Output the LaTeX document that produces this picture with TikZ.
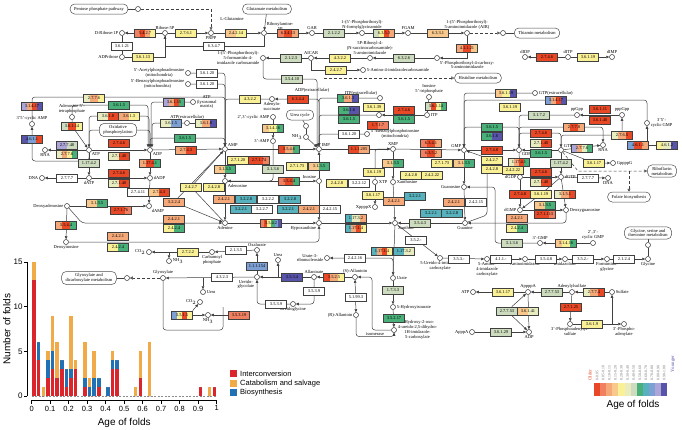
\documentclass[tikz,border=0pt]{standalone}
\usepackage{fontspec}
\setmainfont{Liberation Serif}
\setsansfont{Liberation Sans}
\usetikzlibrary{arrows.meta, calc, backgrounds}

% fold-age palette, older to younger
\definecolor{ag1}{RGB}{233,72,38}
\definecolor{ag2}{RGB}{240,128,96}
\definecolor{ag3}{RGB}{245,168,120}
\definecolor{ag4}{RGB}{248,200,140}
\definecolor{ag5}{RGB}{250,240,150}
\definecolor{ag6}{RGB}{232,236,190}
\definecolor{ag7}{RGB}{205,220,190}
\definecolor{ag8}{RGB}{72,176,120}
\definecolor{ag9}{RGB}{88,178,190}
\definecolor{ag10}{RGB}{125,160,212}
\definecolor{ag11}{RGB}{172,165,215}
\definecolor{ag12}{RGB}{88,84,170}
\definecolor{icol}{RGB}{218,37,45}
\definecolor{ccol}{RGB}{241,170,72}
\definecolor{bcol}{RGB}{33,113,181}

\newcommand{\boxfont}{\fontsize{4.4}{4.6}\selectfont}
\newcommand{\cpdfont}{\fontsize{4.5}{4.9}\selectfont}

% enzyme box: name, position, EC number, colour segments
\newcommand{\ecnode}[4]{%
  \node[ecbox] (#1) at (#2) {\phantom{#3}};
  \gdef\nseg{0}%
  \foreach \c in {#4} {\pgfmathtruncatemacro\tmpn{\nseg+1}\global\let\nseg\tmpn}%
  \foreach \c [count=\i] in {#4} {
    \pgfmathsetmacro\fa{(\i-1)/\nseg}\pgfmathsetmacro\fb{\i/\nseg}
    \fill[\c] ($(#1.south west)!\fa!(#1.south east)$) rectangle ($(#1.north west)!\fb!(#1.north east)$);
  }
  \node[ecbox, draw=black!75, line width=0.45pt] at (#2) {#3};
}
% compound: name, position, label side, label
\newcommand{\compound}[4]{\node[cpd, label={[lbl]#3:{#4}}] (#1) at (#2) {};}

\begin{document}
\begin{tikzpicture}[
        x=1pt, y=-1pt,
        ecbox/.style={rectangle, minimum width=21pt, minimum height=8.4pt, inner sep=0.3pt, font=\boxfont},
        cpd/.style={circle, draw=black!80, fill=white, line width=0.5pt, minimum size=5pt, inner sep=0pt},
        lbl/.style={font=\cpdfont, inner sep=0.8pt, align=center},
        pwbox/.style={draw=black!70, fill=white, rounded corners=4.5pt, line width=0.5pt,
            font=\cpdfont, align=center, inner xsep=4pt, inner ysep=2pt, minimum height=10pt},
        ln/.style={draw=black!75, line width=0.5pt},
        arr/.style={ln, -{Triangle[length=3pt, width=2.6pt]}},
        dsh/.style={ln, dash pattern=on 3pt off 2pt, -{Triangle[open, length=3pt, width=3pt]}},
        rc/.style={rounded corners=3pt}
        ]
    \useasboundingbox (0,0) rectangle (682,429);
    \begin{scope}[on background layer]
        \fill[white] (0,0) rectangle (682,429);
    \end{scope}

    % --- linked pathways ---
    \node[pwbox] (pppbox) at (99,9) {Pentose phosphate pathway};
    \node[pwbox] (glubox) at (267,9) {Glutamate metabolism};
    \node[pwbox] (thiambox) at (537,33) {Thiamin metabolism};
    \node[pwbox] (hisbox) at (478,78) {Histidine metabolism};
    \node[pwbox] (oxbox) at (118,130) {Oxidative\\phosphorylation};
    \node[pwbox] (ureabox) at (300,115) {Urea cycle};
    \node[pwbox] (ribbox) at (662,171) {Riboflavin\\metabolism};
    \node[pwbox] (folbox) at (629,197) {Folate biosynthesis};
    \node[pwbox] (glybox) at (648,233) {Glycine, serine and\\threonine metabolism};
    \node[pwbox] (glyxbox) at (89,278) {Glyoxylate and\\dicarboxylate metabolism};

    % --- compounds ---
    \node[cpd] (pppc) at (138,9) {};
    \compound{rib1p}{122,33}{left}{D-Ribose-1P}
    \compound{rib5p}{165,33}{above}{Ribose-5P}
    \compound{prpp}{211,33}{below}{PRPP}
    \compound{adprib}{122,57}{left}{ADPribose}
    \node[lbl] (lglu) at (232,19) {L-Glutamine};
    \compound{ribam}{264,33}{above right}{Ribosylamine-\\5P}
    \compound{gar}{312,33}{above}{GAR}
    \compound{fgar}{362,33}{above}{1-(5'-Phosphoribosyl)-\\N-formylglycinamide}
    \compound{fgam}{408,33}{above}{FGAM}
    \compound{air}{467,33}{above}{1-(5'-Phosphoribosyl)-\\5-aminoimidazole (AIR)}
    \node[cpd] (thiamc) at (503,33) {};
    \compound{cair}{437,58}{below right}{5'-Phosphoribosyl-4-carboxy-\\5-aminoimidazole}
    \compound{saicar}{370,58}{above}{5P-Ribosyl-4-\\(N-succinocarboxamide)-\\5-aminoimidazole}
    \compound{aicar}{311,58}{above}{AICAR}
    \compound{faicar}{263,58}{left}{1-(5'-Phosphoribosyl)-\\5-formamido-4-\\imidazole carboxamide}
    \compound{aic}{363,70}{right}{5-Amino-4-imidazolecarboxamide}
    \compound{didp}{525,57}{above}{dIDP}
    \compound{ditp}{568,57}{above}{dITP}
    \compound{dimp}{612,57}{above}{dIMP}
    \compound{acet}{188,73}{left}{5'-Acetylphosphoadenosine\\(mitochondria)}
    \compound{benz}{188,84}{left}{5'-Benzoylphosphoadenosine\\(mitochondria)}
    \node[lbl] (adpex) at (312,90) {ADP(extracellular)};
    \compound{adsucc}{272,99}{below}{Adenylo-\\succinate}
    \compound{itpex}{380,98}{above left}{ITP(extracellular)}
    \compound{ino5tp}{429,97}{above}{Inosine\\5'-triphosphate}
    \compound{atply}{193,102}{right}{ATP\\(lysosomal\\matrix)}
    \compound{atpex}{187,123}{above}{ATP(extracellular)}
    \compound{ado5tp}{72,117}{above}{Adenosine 5'-\\tetraphosphate}
    \compound{camp}{32,124}{above}{3'5'-cyclic AMP}
    \compound{rna1}{45,150}{below}{RNA}
    \compound{atp}{89,150}{below right}{ATP}
    \compound{adp}{150,150}{below right}{ADP}
    \compound{amp}{225,149}{above right}{AMP}
    \compound{dna1}{42,178}{left}{DNA}
    \compound{datp}{89,178}{below}{dATP}
    \compound{dadp}{150,178}{right}{dADP}
    \compound{dado}{67,206}{left}{Deoxyadenosine}
    \compound{damp}{149,206}{below right}{dAMP}
    \compound{dino}{66,242}{below}{Deoxyinosine}
    \compound{adenosine}{225,181}{below right}{Adenosine}
    \compound{adenine}{225,223}{below}{Adenine}
    \compound{camp23}{273,117}{left}{2',3'-cyclic AMP}
    \compound{amp3}{273,141}{left}{3'-AMP}
    \node[cpd] (urc) at (306,126) {};
    \compound{nh3a}{306,137}{left}{NH$_3$}
    \compound{imp}{319,149}{above right}{IMP}
    \compound{xmp}{393,149}{above}{XMP}
    \compound{inosine}{319,181}{above left}{Inosine}
    \compound{hypox}{319,223}{below left}{Hypoxanthine}
    \compound{xtp}{375,182}{right}{XTP}
    \compound{xanthosine}{393,182}{right}{Xanthosine}
    \compound{xanthine}{395,223}{below right}{Xanthine}
    \compound{bzi}{367,134}{right}{5'-Benzoylphosphoinosine\\(mitochondria)}
    \compound{idp}{379,115}{above left}{IDP}
    \compound{itp}{427,115}{right}{ITP}
    \compound{xppppx}{375,207}{left}{XppppX}
    \compound{gmp}{464,150}{above left}{GMP}
    \compound{gdp}{519,150}{below right}{GDP}
    \compound{gtp}{561,150}{above right}{GTP}
    \compound{rna2}{603,145}{below}{RNA}
    \compound{gtpex}{535,93}{right}{GTP(extracellular)}
    \compound{ppgpp}{577,115}{above}{ppGpp}
    \compound{pppgpp}{622,115}{above}{pppGpp}
    \compound{cgmp}{647,123}{right}{3'5'-\\cyclic GMP}
    \compound{gppppg}{613,163}{right}{GppppG}
    \compound{dgdp}{520,177}{left}{dGDP}
    \compound{dgtp}{561,177}{right}{dGTP}
    \compound{dna2}{608,178}{below}{DNA}
    \compound{guanosine}{464,187}{left}{Guanosine}
    \compound{dgmp}{520,210}{left}{dGMP}
    \compound{dguo}{566,210}{right}{Deoxyguanosine}
    \compound{guanine}{465,223}{below}{Guanine}
    \compound{gmp3}{540,243}{above}{3'-GMP}
    \compound{cgmp23}{593,243}{above}{2',3'-\\cyclic GMP}
    \compound{urimc}{440,258}{below}{5-Ureido-4-imidazole\\carboxylate}
    \compound{aminoimc}{487,259}{below}{5-Amino-\\4-imidazole\\carboxylate}
    \compound{aminoim}{525,259}{below}{Aminoimidazole}
    \compound{imidazolone}{565,259}{below}{Imidazolone}
    \compound{formimino}{607,259}{below}{Formimino-\\glycine}
    \compound{glycine}{648,259}{below}{Glycine}
    \node[cpd] (glyj) at (648,245) {};
    \compound{atp2}{473,292}{left}{ATP}
    \compound{appppa}{528,292}{above}{AppppA}
    \compound{aps}{572,292}{above}{Adenylylsulfate}
    \compound{sulfate}{612,292}{right}{Sulfate}
    \compound{paps}{570,324}{below}{3'-Phosphoadenylyl-\\sulfate}
    \compound{pap}{624,324}{below}{3'-Phospho-\\adenylate}
    \compound{apppa}{472,332}{left}{ApppA}
    \compound{adp2}{529,332}{below}{ADP}
    \compound{urate}{393,278}{right}{Urate}
    \compound{urate3r}{327,258}{left}{Urate-3-\\ribonucleoside}
    \compound{hiu}{393,307}{right}{5-Hydroxyisourate}
    \compound{ohcu}{394,330}{right}{5-Hydroxy-2-oxo-\\4-ureido-2,5-dihydro-\\1H-imidazole-\\5-carboxylate}
    \compound{sallantoin}{355,277}{above}{(S)-Allantoin}
    \compound{rallantoin}{356,315}{left}{(R)-Allantoin}
    \node[lbl] (iso) at (375,334) {isomerase};
    \compound{allantoate}{314,277}{above}{Allantoate}
    \compound{ureidoglycine}{293,304}{below}{Ureidoglycine}
    \compound{ureidoglycolate}{257,277}{below left}{Ureido-\\glycolate}
    \compound{urea}{278,260}{above}{Urea}
    \compound{oxalurate}{257,250}{above}{Oxalurate}
    \compound{carbp}{212,252}{below}{Carbamoyl\\phosphate}
    \compound{co2a}{149,252}{left}{CO$_2$}
    \compound{nh3b}{169,261}{right}{NH$_3$}
    \compound{glyoxylate}{163,278}{above}{Glyoxylate}
    \node[cpd] (glyoxc) at (127,278) {};
    \compound{urea2}{203,292}{right}{Urea}
    \compound{co2b}{200,302}{left}{CO$_2$}
    \compound{nh3c}{208,315}{below}{NH$_3$}

    % --- enzymes: de novo synthesis ---
    \ecnode{b5427}{145,33}{5.4.2.7}{ag2,ag1,ag3,ag5}
    \ecnode{b2761}{186,33}{2.7.6.1}{ag5}
    \ecnode{b36121}{122,46}{3.6.1.21}{white}
    \ecnode{b36113}{143,57}{3.6.1.13}{ag5}
    \ecnode{b6347}{214,46}{6.3.4.7}{white}
    \ecnode{b24214}{236,33}{2.4.2.14}{ag4,ag5}
    \ecnode{b63413}{288,33}{6.3.4.13}{ag2,ag1,ag3}
    \ecnode{b2122}{334,33}{2.1.2.2}{ag7}
    \ecnode{b6353}{384,33}{6.3.5.3}{ag7,ag5,ag1,ag3}
    \ecnode{b6331}{438,33}{6.3.3.1}{ag4}
    \ecnode{b41121}{467,48}{4.1.1.21}{ag3,ag1,ag4}
    \ecnode{b2123}{291,58}{2.1.2.3}{ag7}
    \ecnode{b4322a}{340,58}{4.3.2.2}{ag5}
    \ecnode{b6326}{404,58}{6.3.2.6}{ag7}
    \ecnode{b2427a}{336,70}{2.4.2.7}{ag5}
    \ecnode{b35410}{292,79}{3.5.4.10}{ag7}
    \ecnode{b2746a}{547,57}{2.7.4.6}{ag1}
    \ecnode{b36119a}{588,57}{3.6.1.19}{ag5}

    % --- enzymes: adenine side ---
    \ecnode{b36120a}{207,73}{3.6.1.20}{white}
    \ecnode{b36120b}{207,84}{3.6.1.20}{white}
    \ecnode{b4322b}{250,99}{4.3.2.2}{ag5}
    \ecnode{b6344}{298,99}{6.3.4.4}{ag1}
    \ecnode{b31417a}{32,106}{3.1.4.17}{ag11,ag3,ag1,ag12}
    \ecnode{b4611a}{32,139}{4.6.1.1}{ag12,ag10,ag1}
    \ecnode{b2776a}{94,98}{2.7.7.6}{ag6,ag3,ag5}
    \ecnode{b3615a}{119,105}{3.6.1.5}{ag8}
    \ecnode{b36114a}{72,126}{3.6.1.14}{ag7,ag1,ag5}
    \ecnode{b3641}{108,116}{3.6.1.8}{ag6,ag1}
    \ecnode{b3613b}{129,116}{3.6.1.3}{ag3,ag5}
    \ecnode{b36115}{174,102}{3.6.1.15}{ag11,ag3,ag1,ag8}
    \ecnode{b3618a}{171,123}{3.6.1.5}{ag6,ag10}
    \ecnode{b3618b}{206,123}{3.6.1.8}{ag6,ag3,ag12}
    \ecnode{b27748}{67,145}{2.7.7.48}{ag11,ag7}
    \ecnode{b2776b}{67,154}{2.7.7.6}{ag6,ag3,ag5,ag8}
    \ecnode{b2746b}{119,143}{2.7.4.6}{ag1}
    \ecnode{b27140a}{119,156}{2.7.1.40}{ag6,ag1}
    \ecnode{b3615c}{185,138}{3.6.1.5}{ag8}
    \ecnode{b2743a}{186,150}{2.7.4.3}{ag3,ag1}
    \ecnode{b11742a}{89,163}{1.17.4.2}{ag7}
    \ecnode{b11741a}{150,163}{1.17.4.1}{ag3,ag1,ag8}
    \ecnode{b2777a}{67,178}{2.7.7.7}{white}
    \ecnode{b2746c}{119,173}{2.7.4.6}{ag1}
    \ecnode{b27140b}{119,183}{2.7.1.40}{ag6,ag1}
    \ecnode{b27411}{138,192}{2.7.4.11}{white}
    \ecnode{b2743b}{159,192}{2.7.4.3}{ag4,ag1}
    \ecnode{b3224}{174,202}{3.2.2.4}{ag3}
    \ecnode{b2427b}{191,187}{2.4.2.7}{ag5}
    \ecnode{b2428a}{214,187}{2.4.2.8}{ag5}
    \ecnode{b3135a}{97,203}{3.1.3.5}{ag4,ag8}
    \ecnode{b27176}{121,210}{2.7.1.76}{ag1,ag1,ag2}
    \ecnode{b3544a}{66,225}{3.5.4.4}{ag3,ag1,ag8}
    \ecnode{b2421a}{174,219}{2.4.2.1}{ag3}
    \ecnode{b2424a}{174,228}{2.4.2.4}{ag5,ag8}
    \ecnode{b2421b}{118,236}{2.4.2.1}{ag3}
    \ecnode{b2424b}{118,247}{2.4.2.4}{ag5,ag8}
    \ecnode{b31416a}{273,128}{3.1.4.16}{ag4,ag5,ag8}
    \ecnode{b3546}{289,149}{3.5.4.6}{ag1,ag3,ag8}
    \ecnode{b27120}{238,160}{2.7.1.20}{ag5}
    \ecnode{b27174}{259,160}{2.7.1.74}{ag1,ag1,ag2}
    \ecnode{b3135b}{225,169}{3.1.3.5}{ag4,ag8}
    \ecnode{b3136a}{273,169}{3.1.3.6}{ag7}
    \ecnode{b27173a}{297,166}{2.7.1.73}{ag5}
    \ecnode{b3135c}{319,166}{3.1.3.5}{ag4,ag8}
    \ecnode{b3544b}{289,181}{3.5.4.4}{ag2,ag1,ag8}
    \ecnode{b2421e}{224,199}{2.4.2.1}{ag3}
    \ecnode{b3228a}{246,199}{3.2.2.8}{ag9}
    \ecnode{b3222}{268,199}{3.2.2.2}{white}
    \ecnode{b3228b}{290,199}{3.2.2.8}{ag9}
    \ecnode{b3221d}{241,209}{3.2.2.1}{ag9}
    \ecnode{b3227}{262,209}{3.2.2.7}{white}
    \ecnode{b3221c}{288,209}{3.2.2.1}{ag9}
    \ecnode{b2421d}{309,209}{2.4.2.1}{ag3}
    \ecnode{b24215a}{330,209}{2.4.2.15}{white}
    \ecnode{b3542}{271,223}{3.5.4.2}{ag2,ag1,ag5,ag8,ag10,ag12}

    % --- enzymes: inosine and xanthine ---
    \ecnode{b3613a}{348,98}{3.6.1.3}{ag8,ag3,ag12}
    \ecnode{b36139}{374,107}{3.6.1.39}{ag5}
    \ecnode{b36114b}{436,106}{3.6.1.14}{ag7,ag1,ag5,ag8}
    \ecnode{b111205}{359,149}{1.1.1.205}{ag1,ag3}
    \ecnode{b6341}{431,143}{6.3.4.1}{ag2,ag1,ag3}
    \ecnode{b6352}{431,153}{6.3.5.2}{ag2,ag1,ag3}
    \ecnode{b36120c}{349,134}{3.6.1.20}{white}
    \ecnode{b2746d}{404,110}{2.7.4.6}{ag1}
    \ecnode{b3615d}{404,119}{3.6.1.5}{ag8}
    \ecnode{b3616a}{349,110}{3.6.1.6}{ag8,ag12}
    \ecnode{b3615e}{349,119}{3.6.1.5}{ag8}
    \ecnode{b1717}{378,125}{1.7.1.7}{ag1,ag2}
    \ecnode{b2428b}{337,183}{2.4.2.8}{ag5}
    \ecnode{b32212}{359,183}{3.2.2.12}{white}
    \ecnode{b3135d}{393,163}{3.1.3.5}{ag4,ag8}
    \ecnode{b36119d}{374,172}{3.6.1.19}{ag5}
    \ecnode{b2428c}{411,175}{2.4.2.8}{ag5}
    \ecnode{b24222a}{432,175}{2.4.2.22}{ag5}
    \ecnode{b36117a}{373,195}{3.6.1.17}{ag5}
    \ecnode{b2421c}{394,201}{2.4.2.1}{ag3}
    \ecnode{b3221a}{415,196}{3.2.2.1}{ag9}
    \ecnode{b3221b}{431,213}{3.2.2.1}{ag9}
    \ecnode{b11732a}{356,218}{1.17.3.2}{ag9,ag6,ag3}
    \ecnode{b11714a}{356,228}{1.17.1.4}{ag9,ag3,ag1,ag5}
    \ecnode{b3543}{420,223}{3.5.4.3}{ag7}

    % --- enzymes: guanine side ---
    \ecnode{b36119b}{506,93}{3.6.1.19}{ag4,ag5,ag12}
    \ecnode{b31417c}{556,100}{3.1.4.17}{ag10,ag3,ag1,ag12}
    \ecnode{b36119c}{510,107}{3.6.1.19}{ag5}
    \ecnode{b3172}{539,115}{3.1.7.2}{ag7}
    \ecnode{b36111}{600,109}{3.6.1.11}{ag1}
    \ecnode{b36140}{600,120}{3.6.1.40}{ag1}
    \ecnode{b2778}{574,127}{2.7.7.8}{ag3,ag1,ag3}
    \ecnode{b2765}{622,135}{2.7.6.5}{ag6,ag3,ag1}
    \ecnode{b4611b}{638,145}{4.6.1.1}{ag10,ag1,ag3}
    \ecnode{b4612}{667,145}{4.6.1.2}{ag5,ag6,ag12}
    \ecnode{b3615f}{492,127}{3.6.1.5}{ag8}
    \ecnode{b3616b}{492,136}{3.6.1.6}{ag8,ag12}
    \ecnode{b2748a}{492,150}{2.7.4.8}{ag1}
    \ecnode{b2746e}{541,133}{2.7.4.6}{ag1}
    \ecnode{b27140c}{541,143}{2.7.1.40}{ag6,ag1}
    \ecnode{b3615g}{541,153}{3.6.1.5}{ag8}
    \ecnode{b2776c}{582,148}{2.7.7.6}{ag11,ag3,ag6,ag8}
    \ecnode{b11741b}{519,162}{1.17.4.1}{ag6,ag3,ag1,ag8}
    \ecnode{b11742b}{561,163}{1.17.4.2}{ag7}
    \ecnode{b36117b}{594,163}{3.6.1.17}{ag5}
    \ecnode{b27173b}{442,163}{2.7.1.73}{ag5}
    \ecnode{b3135e}{464,163}{3.1.3.5}{ag4,ag8}
    \ecnode{b2427c}{492,160}{2.4.2.7}{ag5}
    \ecnode{b2428d}{492,169}{2.4.2.8}{ag5}
    \ecnode{b24222b}{513,170}{2.4.2.22}{ag5}
    \ecnode{b2746f}{541,172}{2.7.4.6}{ag1}
    \ecnode{b27140d}{541,182}{2.7.1.40}{ag6,ag1}
    \ecnode{b2777b}{588,178}{2.7.7.7}{white}
    \ecnode{b2748b}{520,194}{2.7.4.8}{ag1}
    \ecnode{b36119e}{541,194}{3.6.1.19}{ag5}
    \ecnode{b3151}{565,194}{3.1.5.1}{ag6,ag3,ag1}
    \ecnode{b2421f}{454,202}{2.4.2.1}{ag3}
    \ecnode{b24215b}{476,202}{2.4.2.15}{white}
    \ecnode{b3135f}{545,205}{3.1.3.5}{ag4,ag8}
    \ecnode{b271113}{545,214}{2.7.1.113}{ag1,ag1,ag2}
    \ecnode{b3228c}{452,213}{3.2.2.8}{ag9}
    \ecnode{b2421g}{517,218}{2.4.2.1}{ag3}
    \ecnode{b2424c}{517,228}{2.4.2.4}{ag5,ag8}
    \ecnode{b3136b}{512,243}{3.1.3.6}{ag7}
    \ecnode{b31416b}{566,243}{3.1.4.16}{ag4,ag5,ag8}

    % --- enzymes: degradation ---
    \ecnode{b11714b}{382,251}{1.17.1.4}{ag9,ag3,ag1,ag5}
    \ecnode{b11732b}{404,251}{1.17.3.2}{ag9,ag6}
    \ecnode{b352a}{416,240}{3.5.2.-}{white}
    \ecnode{b24216}{355,258}{2.4.2.16}{white}
    \ecnode{b1733}{393,290}{1.7.3.3}{ag7}
    \ecnode{b35217}{394,318}{3.5.2.17}{ag8}
    \ecnode{b3534}{292,277}{3.5.3.4}{ag12}
    \ecnode{b3525}{334,277}{3.5.2.5}{ag1,ag3,ag5}
    \ecnode{b3539a}{314,291}{3.5.3.9}{white}
    \ecnode{b3539b}{276,304}{3.5.3.9}{white}
    \ecnode{b51993}{356,297}{5.1.99.3}{white}
    \ecnode{b2722}{188,252}{2.7.2.2}{ag5}
    \ecnode{b2135}{236,250}{2.1.3.5}{white}
    \ecnode{b4323}{222,277}{4.3.2.3}{white}
    \ecnode{b11154}{257,266}{1.1.1.154}{ag10}
    \ecnode{b3515}{182,315}{3.5.1.5}{ag10,ag5,ag1,ag5}
    \ecnode{b35319}{239,315}{3.5.3.19}{ag2}
    \ecnode{b353}{459,259}{3.5.3.-}{white}
    \ecnode{b411}{501,259}{4.1.1.-}{white}
    \ecnode{b3548}{546,259}{3.5.4.8}{white}
    \ecnode{b352c}{583,259}{3.5.2.-}{white}
    \ecnode{b2124}{624,259}{2.1.2.4}{white}
    \ecnode{b36117c}{503,292}{3.6.1.17}{ag5}
    \ecnode{b27753a}{552,292}{2.7.7.53}{ag7}
    \ecnode{b2774}{594,292}{2.7.7.4}{ag6,ag3,ag1}
    \ecnode{b27125}{571,307}{2.7.1.25}{ag1}
    \ecnode{b27753b}{507,311}{2.7.7.53}{ag7}
    \ecnode{b36141}{528,311}{3.6.1.41}{ag4,ag6}
    \ecnode{b3619}{592,324}{3.6.1.9}{ag5}
    \ecnode{b36129}{501,332}{3.6.1.29}{ag7}

    % --- reactions ---
    \begin{scope}[on background layer]
        \draw[arr] (rib5p) -- (rib1p);
        \draw[arr] (rib5p) -- (prpp);
        \draw[ln] (pppbox) -- (pppc);
        \draw[dsh] (pppc) -| (prpp);
        \draw[ln] (adprib) -- (rib1p);
        \draw[arr] (adprib) -| (rib5p);
        \draw[ln] (rib5p) |- (b6347) -| (ribam);
        \draw[arr] (prpp) -- (ribam);
        \draw[arr] (glubox) -- (ribam);
        \draw[arr] (ribam) -- (gar);
        \draw[arr] (gar) -- (fgar);
        \draw[arr] (fgar) -- (fgam);
        \draw[arr] (fgam) -- (air);
        \draw[dsh] (air) -- (thiamc);
        \draw[ln] (thiamc) -- (thiambox);
        \draw[arr] (air) |- (cair);
        \draw[arr] (cair) -- (saicar);
        \draw[arr] (saicar) -- (aicar);
        \draw[arr] (aicar) -- (faicar);
        \draw[arr] (aicar) |- (aic);
        \draw[arr, rc] (faicar) |- (b35410) -| (imp.north west);
        \coordinate (hisj) at (324,78);
        \draw[dsh] (hisj) -- (hisbox);
        \draw[arr] (ditp) -- (didp);
        \draw[arr] (ditp) -- (dimp);

        \draw[arr, rc] (acet) -| (amp);
        \draw[arr, rc] (benz) -| (amp);
        \draw[arr, rc] (adsucc) -| (amp);
        \draw[arr, rc] (imp) |- (adsucc);
        \draw[arr] (amp) -- (imp);
        \draw[arr] (imp) -- (xmp);
        \draw[arr] (xmp) -- (gmp);
        \draw[arr] (camp23) -- (amp3);
        \draw[arr, rc] (amp3) |- (adenosine);
        \draw[ln] (ureabox) -- (urc);
        \draw[ln] (urc) -- (nh3a);
        \draw[arr] (nh3a) -- (imp);
        \draw[arr] (amp) -- (adenosine);
        \draw[arr] (adenosine) -- (inosine);
        \draw[arr] (inosine) -- (imp);
        \draw[arr] (inosine) -- (hypox);
        \draw[arr] (adenosine) -- (adenine);
        \draw[arr] (adenine) -- (hypox);
        \draw[arr] (hypox) -- (xanthine);
        \draw[arr] (xmp) -- (xanthosine);
        \draw[arr] (xanthosine) -- (xanthine);
        \draw[arr, rc] (xtp) |- (xmp);
        \draw[arr] (xtp) -- (xppppx);
        \draw[arr] (gmp) -- (guanosine);
        \draw[arr] (guanosine) -- (guanine);
        \draw[arr] (guanine) -- (xanthine);
        \draw[arr, rc] (guanine) -- (487,215) -- (487,158) -- (gmp);

        \draw[arr, rc] (camp) -- (32,97) -| (amp);
        \draw[arr, rc] (atp) |- (32,161) -- (camp);
        \draw[arr] (ado5tp) -- (b36114a.center) -- (atp);
        \draw[arr] (atp) -- (rna1);
        \draw[arr] (atp) -- (adp);
        \draw[arr, rc] (oxbox.east) -| (adp);
        \draw[arr, rc] (oxbox.west) -| (atp);
        \draw[arr, rc] (ado5tp) |- (b3615a) -| ([xshift=-2pt]adp.north);
        \draw[arr, rc] (atp) |- (b3641) -| ([xshift=-1pt]adp.north);
        \draw[arr, rc] (atply) -| ([xshift=1pt]adp.north);
        \draw[ln] (b3618b) -- (atpex);
        \draw[arr, rc] (atpex) -| ([xshift=2pt]adp.north);
        \draw[arr] (adp) -- (amp);
        \draw[arr, rc] (adp) |- (b3615c) -| (amp);
        \draw[arr] (atp) -- (datp);
        \draw[arr] (adp) -- (dadp);
        \draw[arr] (datp) -- (dadp);
        \draw[arr] (datp) -- (dna1);
        \draw[arr] (dadp) -- (damp);
        \draw[arr] (dado) -- (damp);
        \draw[arr] (dado) -- (dino);
        \draw[arr, rc] (dado) -- (82,223) -- (adenine);
        \draw[arr, rc] (dino) -| (hypox);
        \draw[arr] (amp) -- (b3224.center) -- (adenine);
        \draw[arr] (adenine) -- (b2427b.center) -- (amp);

        \draw[arr] (carbp) -- (co2a);
        \draw[arr] (nh3b |- co2a) -- (nh3b);
        \draw[arr] (oxalurate) -- (carbp);
        \draw[arr] (ureidoglycolate) -- (oxalurate);
        \draw[arr] (allantoate) -- (ureidoglycolate);
        \draw[arr] (urea |- allantoate) -- (urea);
        \draw[arr] (sallantoin) -- (allantoate);
        \draw[arr, rc] (allantoate) |- (ureidoglycine);
        \draw[arr, rc] (ureidoglycine) -| (ureidoglycolate);
        \draw[arr] (ureidoglycolate) -- (glyoxylate);
        \draw[arr] (urea2 |- glyoxylate) -- (urea2);
        \draw[dsh] (glyoxylate) -- (glyoxc);
        \draw[ln] (glyoxc) -- (glyxbox);
        \draw[ln, rc] (glyoxylate) |- (223,330) -- (223,307);
        \draw[arr] (b35319) -- (nh3c);
        \draw[arr] (b3515) -- (nh3c);
        \draw[arr] (b3515.north east) -- (co2b);

        \draw[arr] (xanthine) -- (urate);
        \draw[arr] (xanthine) -- (urimc);
        \draw[arr, rc] (urate) |- (urate3r);
        \draw[arr] (urate) -- (hiu);
        \draw[arr] (hiu) -- (ohcu);
        \draw[arr, rc] (ohcu) -- (372,330) -- (372,277) -- (sallantoin);
        \draw[ln, {Triangle[length=3pt, width=2.6pt]}-{Triangle[length=3pt, width=2.6pt]}] (sallantoin) -- (rallantoin);
        \draw[arr, rc] (rallantoin) |- (iso.south) -| (ohcu);
        \draw[arr] (urimc) -- (aminoimc);
        \draw[arr] (aminoimc) -- (aminoim);
        \draw[arr] (aminoim) -- (imidazolone);
        \draw[arr] (imidazolone) -- (formimino);
        \draw[arr] (formimino) -- (glycine);
        \draw[ln] (glybox) -- (glyj);
        \draw[ln] (glyj) -- (glycine);

        \draw[arr] (gmp) -- (gdp);
        \draw[arr] (gtp) -- (gdp);
        \draw[arr, rc] (gdp) |- (b2746e) -| (gtp);
        \draw[arr] (gtp) -- (rna2);
        \draw[arr] (gdp) -- (dgdp);
        \draw[arr] (gtp) -- (dgtp);
        \draw[arr] (dgdp) -- (dgtp);
        \draw[arr] (dgtp) -- (dna2);
        \draw[arr] (dgdp) -- (dgmp);
        \draw[arr] (dgtp) -- (b36119e.center) -- (dgmp);
        \draw[arr] (dgtp) -- (dguo);
        \draw[arr] (dgmp) -- (dguo);
        \draw[arr, rc] (dguo) |- (guanine);
        \draw[arr, rc] (gdp) |- (b3615f) -| (gmp);
        \draw[arr, rc] (ppgpp) -| (gdp);
        \draw[arr] (pppgpp) -- (ppgpp);
        \draw[arr, rc] (gtp) |- (b2765) -- (pppgpp);
        \draw[arr, rc] (gdp) |- (b2778) -| (rna2);
        \draw[arr] (gtp) -- (b36117b.center) -- (gppppg);
        \draw[dsh] (gtp) -- (578,171) -- (ribbox);
        \coordinate (folj) at (629,171);
        \draw[dsh] (folj) -- (folbox);
        \draw[arr, rc] (cgmp) |- (b31417c) -| (gmp);
        \draw[arr, rc] (gtpex) -| (gmp);
        \coordinate (cgj) at (647,145);
        \draw[ln] (b4611b) -- (b4612);
        \draw[arr] (cgj) -- (cgmp);
        \draw[arr] (cgmp23) -- (gmp3);
        \draw[arr, rc] (gmp3) -- (495,243) -- (495,187) -- (guanosine);

        \draw[arr, rc] (itpex) -| (imp);
        \draw[arr] (itp) -- (idp);
        \draw[arr, rc] (idp) -| (imp);
        \draw[arr, rc] (bzi) -| (imp);
        \draw[arr] (ino5tp) -- (itp);

        \draw[arr] (appppa) -- (atp2);
        \draw[arr] (aps) -- (appppa);
        \draw[arr] (sulfate) -- (aps);
        \draw[arr] (aps) -- (paps);
        \draw[arr] (paps) -- (pap);
        \draw[arr] (sulfate |- paps) -- (sulfate);
        \draw[arr] (appppa) -- (adp2);
        \draw[arr] (apppa) -- (adp2);
        \draw[arr] (b27753b) -- (appppa);
        \draw[arr] (b27753b) -- (adp2);
    \end{scope}

    % --- histogram of fold ages ---
    \begin{scope}[shift={(31.7,396)}, x=185pt, y=8.93pt]
        \draw[black!45, dash pattern=on 2pt off 1.5pt, line width=0.5pt] (0,0) -- (1,0);
        \foreach \k/\r/\b/\c in {0/13/0/2, 1/4/2/0, 2/0/0/1, 3/2/2/1, 4/3/2/4, 5/2/0/4,
                6/3/1/0, 7/1/2/0, 8/2/1/6, 9/3/0/1, 11/1/1/4, 12/0/1/1, 13/0/2/3, 14/1/1/0,
                16/0/1/0, 17/3/1/1, 18/3/1/0, 22/0/0/1, 23/2/0/3, 25/0/0/6, 36/1/0/0,
                38/0/0/1, 39/1/0/0} {
            \fill[icol] (0.025*\k+0.003,0) rectangle (0.025*\k+0.022,\r);
            \fill[bcol] (0.025*\k+0.003,\r) rectangle (0.025*\k+0.022,\r+\b);
            \fill[ccol] (0.025*\k+0.003,\r+\b) rectangle (0.025*\k+0.022,\r+\b+\c);
        }
        \draw[line width=0.6pt] (-0.025,0) -- (-0.025,15);
        \foreach \v [count=\i] in {0,5,10,15}
            \draw[line width=0.6pt] (-0.025,\v) -- (-0.042,\v)
                node[left, inner sep=1pt, font=\sffamily\fontsize{8}{9}\selectfont] (ytick\i) {\v};
        \draw[line width=0.6pt] (0,-0.45) -- (1,-0.45);
        \foreach \v [count=\i] in {0,0.1,0.2,0.3,0.4,0.5,0.6,0.7,0.8,0.9,1}
            \draw[line width=0.6pt] (\v,-0.45) -- (\v,-0.95)
                node[below, inner sep=1pt, font=\sffamily\fontsize{7.5}{9}\selectfont] (xtick\i) {\v};
        \node[font=\sffamily\fontsize{10}{12}\selectfont] (xtitle) at (0.5,-3.05) {Age of folds};
        \node[font=\sffamily\fontsize{10}{12}\selectfont, rotate=90] (ytitle) at (-0.135,7.5) {Number of folds};
    \end{scope}

    % --- histogram legend ---
    \foreach \c/\t [count=\i] in {icol/Interconversion, ccol/Catabolism and salvage, bcol/Biosynthesis} {
        \fill[\c] (230,361+9.3*\i) rectangle ++(7,7);
        \node[anchor=west, inner sep=1pt, font=\sffamily\fontsize{7.5}{8}\selectfont] (leg\i) at (239,364.5+9.3*\i) {\t};
    }

    % --- age colour key ---
    \foreach \c/\t [count=\i] in {ag1/0-0.05, ag2/0.05-0.10, ag3/0.10-0.15, ag4/0.15-0.20,
            ag5/0.20-0.30, ag6/0.30-0.40, ag7/0.40-0.50, ag8/0.50-0.60, ag9/0.60-0.70,
            ag10/0.70-0.80, ag11/0.80-0.90, ag12/0.90-1.00} {
        \fill[\c] (587.9+6.1*\i,383) rectangle ++(6.1,13);
        \node[rotate=90, anchor=west, inner sep=0.5pt, text=black!55,
            font=\fontsize{3.8}{4}\selectfont] (key\i) at (591+6.1*\i,381) {\t};
    }
    \node[rotate=90, text=ag1, font=\fontsize{4.8}{5}\selectfont] (older) at (590,375) {Older};
    \node[rotate=90, text=ag12, font=\fontsize{4.8}{5}\selectfont] (younger) at (673,364) {Younger};
    \node[font=\sffamily\fontsize{10}{12}\selectfont] (keytitle) at (633,405) {Age of folds};
\end{tikzpicture}
\end{document}
